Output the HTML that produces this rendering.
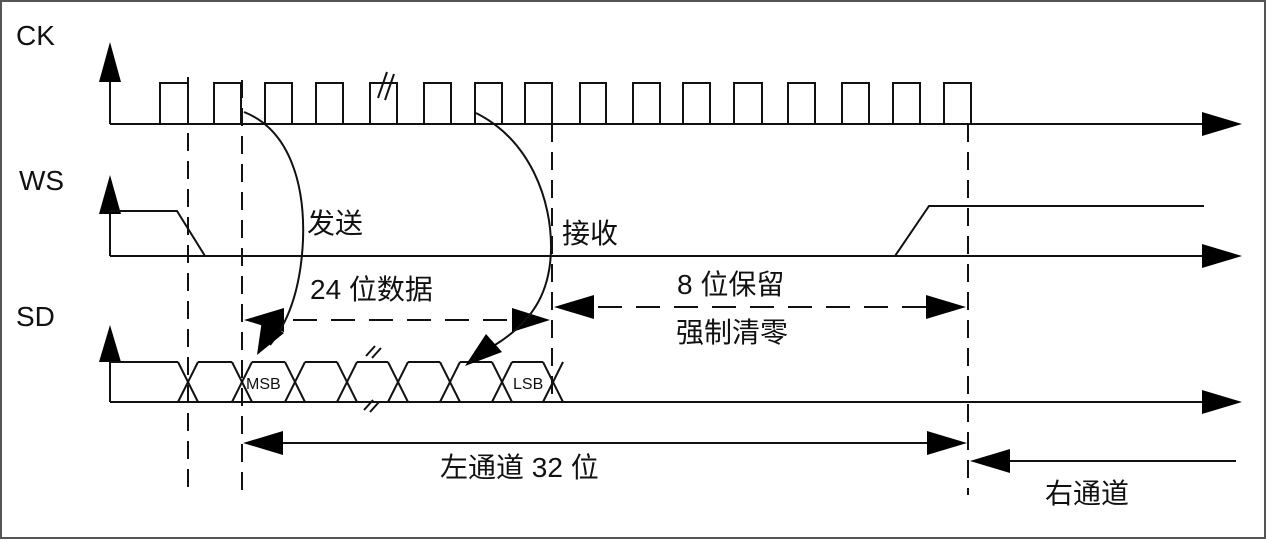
<!DOCTYPE html>
<html><head><meta charset="utf-8"><style>
html,body{margin:0;padding:0;background:#fff}
svg{display:block}
text{font-family:"Liberation Sans","Noto Sans CJK SC",sans-serif;fill:#111}
</style></head><body>
<svg width="1267" height="541" viewBox="0 0 1267 541">
<rect x="1" y="1" width="1264" height="537" fill="#fff" stroke="#555" stroke-width="2"/>
<g id="main" stroke="#111" stroke-width="2" fill="none"></g>
<text x="16" y="45" font-size="28">CK</text>
<text x="19" y="190" font-size="28">WS</text>
<text x="16" y="326" font-size="28">SD</text>
<text x="307" y="233" font-size="28">发送</text>
<text x="562" y="243" font-size="28">接收</text>
<text x="310" y="299" font-size="28">24 位数据</text>
<text x="677" y="294" font-size="28">8 位保留</text>
<text x="676" y="342" font-size="28">强制清零</text>
<text x="440" y="477" font-size="28">左通道 32 位</text>
<text x="1045" y="503" font-size="28">右通道</text>
<text x="246" y="389" font-size="16">MSB</text>
<text x="513" y="389" font-size="16">LSB</text>
</svg>
<script>
const ckRises=[160,214,265,316,370,424,475,525,580,633,683,734,788,842,893,944];
const ckWidth=[28,27,27,27,27,27,27,27,26,27,27,28,27,27,27,27];
const sdCross=[188,242,295,347,398,450,502,553];
const NS='http://www.w3.org/2000/svg';
const g=document.getElementById('main');
function el(tag,attrs,name){const e=document.createElementNS(NS,tag);for(const k in attrs)e.setAttribute(k,attrs[k]);


g.appendChild(e);return e;}
function line(x1,y1,x2,y2,name,extra){return el('line',Object.assign({x1:x1,y1:y1,x2:x2,y2:y2},extra||{}),name);}
function tri(pts,name){return el('polygon',{points:pts,fill:'#000',stroke:'none'},name);}
[[124,42,82],[256,175,214],[402,325,362]].forEach(function(a,i){
 const y=a[0],tip=a[1],base=a[2];
 line(110,y,110,base,'y-axis-'+i);
 tri(`110,${tip} 99,${base} 121,${base}`,'y-arrow-'+i);
 line(110,y,1205,y,'x-axis-'+i);
 tri(`1242,${y} 1202,${y-12} 1202,${y+12}`,'x-arrow-'+i);
});
let ckPath='M110 124';
ckRises.forEach(function(x,i){ckPath+=` L${x} 124 L${x} 83 L${x+ckWidth[i]} 83 L${x+ckWidth[i]} 124`;});
ckPath+=' L995 124';
el('path',{d:ckPath},'ck-waveform');
line(378,98,387,72,'ck-break-1');line(385,100,394,74,'ck-break-2');
el('path',{d:'M110 211 L177 211 L205 256 L895 256 L929 206 L1204 206'},'ws-waveform');
const sdHi=362,sdLo=402,hw=10;
sdCross.forEach(function(c,i){
 el('line',{x1:c-hw,y1:sdHi,x2:c+hw,y2:sdLo},'sd-cross-a-'+i);
 el('line',{x1:c-hw,y1:sdLo,x2:c+hw,y2:sdHi},'sd-cross-b-'+i);
 if(i<sdCross.length-1){
   el('line',{x1:c+hw,y1:sdHi,x2:sdCross[i+1]-hw,y2:sdHi},'sd-top-'+i);
   el('line',{x1:c+hw,y1:sdLo,x2:sdCross[i+1]-hw,y2:sdLo},'sd-bottom-'+i);
 }
});
line(110,sdHi,sdCross[0]-hw,sdHi,'sd-initial-high');
line(366,356,375,346,'sd-break-1');line(372,358,381,348,'sd-break-2');
line(364,410,373,400,'sd-break-3');line(370,412,379,402,'sd-break-4');
[[188,77,495],[242,80,497],[552,124,402],[968,124,495]].forEach(function(a,i){line(a[0],a[1],a[0],a[2],'dashed-guide-'+i,{'stroke-dasharray':'18 10'});});
line(255,320,540,320,'data-24bit-arrow',{'stroke-dasharray':'24 14'});
tri('244,320 284,308 284,332','data-24bit-left-head');tri('550,320 512,308 512,332','data-24bit-right-head');
line(560,307,960,307,'reserved-arrow',{'stroke-dasharray':'24 14'});
tri('554,307 594,295 594,319','reserved-left-head');tri('966,307 926,295 926,319','reserved-right-head');
line(250,443,960,443,'left-channel-arrow');
tri('243,443 283,431 283,455','left-channel-left-head');tri('967,443 927,431 927,455','left-channel-right-head');
line(1000,461,1236,461,'right-channel-arrow');
tri('970,461 1010,449 1010,473','right-channel-head');
el('path',{d:'M244 112 C290 130 305 185 303 240 C301 285 290 320 270 345'},'send-curve');
tri('257,355 262,320 284,333','send-arrowhead');
el('path',{d:'M476 113 C530 140 552 200 551 250 C550 290 535 320 495 345'},'receive-curve');
tri('465,366 486,334 502,352','receive-arrowhead');
</script>
</body></html>
